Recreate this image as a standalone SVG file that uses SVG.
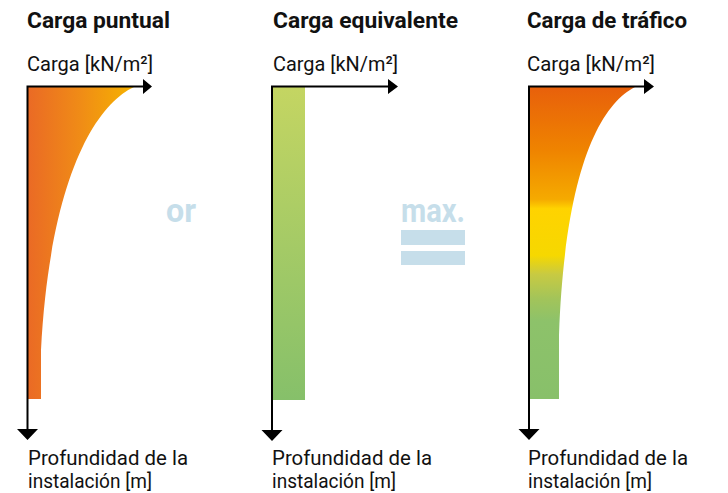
<svg xmlns="http://www.w3.org/2000/svg" width="728" height="493" viewBox="0 0 728 493">
<style>
.t{font-family:Roboto,"Liberation Sans",sans-serif;font-weight:bold;font-size:22.5px;fill:#111}
.l{font-family:Roboto,"Liberation Sans",sans-serif;font-size:21px;fill:#111}
.b{font-family:Roboto,"Liberation Sans",sans-serif;font-weight:bold;font-size:34px;fill:#C6DEEA}
.ax{stroke:#000;stroke-width:2;fill:none}
.ah{fill:#000}
</style>
<defs>
<linearGradient id="g1" gradientUnits="userSpaceOnUse" x1="28" y1="0" x2="134" y2="0">
<stop offset="0" stop-color="#EA6A25"/>
<stop offset="0.5" stop-color="#F08C16"/>
<stop offset="1" stop-color="#F6B300"/>
</linearGradient>
<linearGradient id="g2" gradientUnits="userSpaceOnUse" x1="0" y1="87" x2="0" y2="400">
<stop offset="0" stop-color="#C4D562"/>
<stop offset="1" stop-color="#86C06A"/>
</linearGradient>
<linearGradient id="g3" gradientUnits="userSpaceOnUse" x1="0" y1="87" x2="0" y2="399">
<stop offset="0" stop-color="#E8600B"/>
<stop offset="0.2" stop-color="#EF8300"/>
<stop offset="0.36" stop-color="#F5AA00"/>
<stop offset="0.39" stop-color="#FFD300"/>
<stop offset="0.54" stop-color="#F6D800"/>
<stop offset="0.6" stop-color="#C8CA42"/>
<stop offset="0.68" stop-color="#A2C45A"/>
<stop offset="0.75" stop-color="#8DC26A"/>
<stop offset="1" stop-color="#88C06A"/>
</linearGradient>
</defs>

<g id="panel-punctual">
<path d="M28,87 L134,87 C95,105 50,180 41,350 L41,399 L28,399 Z" fill="url(#g1)"/>
<text class="t" x="27" y="28" textLength="143" lengthAdjust="spacingAndGlyphs">Carga puntual</text>
<text class="l" x="27" y="71" textLength="126" lengthAdjust="spacingAndGlyphs">Carga [kN/m²]</text>
<text class="l" x="28" y="465" textLength="160" lengthAdjust="spacingAndGlyphs">Profundidad de la</text>
<text class="l" x="28" y="488" textLength="124" lengthAdjust="spacingAndGlyphs">instalación [m]</text>
</g>

<g id="panel-equivalent">
<rect x="272" y="87" width="33" height="313" fill="url(#g2)"/>
<text class="t" x="273" y="28" textLength="185" lengthAdjust="spacingAndGlyphs">Carga equivalente</text>
<text class="l" x="273" y="71" textLength="125" lengthAdjust="spacingAndGlyphs">Carga [kN/m²]</text>
<text class="l" x="272" y="465" textLength="160" lengthAdjust="spacingAndGlyphs">Profundidad de la</text>
<text class="l" x="272" y="488" textLength="124" lengthAdjust="spacingAndGlyphs">instalación [m]</text>
</g>

<g id="panel-traffic">
<path d="M529,87 L635,87 C600,105 565,170 559,335 L559,399 L529,399 Z" fill="url(#g3)"/>
<text class="t" x="527" y="28" textLength="160" lengthAdjust="spacingAndGlyphs">Carga de tráfico</text>
<text class="l" x="527" y="71" textLength="128" lengthAdjust="spacingAndGlyphs">Carga [kN/m²]</text>
<text class="l" x="528" y="465" textLength="160" lengthAdjust="spacingAndGlyphs">Profundidad de la</text>
<text class="l" x="528" y="488" textLength="124" lengthAdjust="spacingAndGlyphs">instalación [m]</text>
</g>

<g id="op-or">
<text class="b" x="166" y="222" textLength="30" lengthAdjust="spacingAndGlyphs">or</text>
</g>

<g id="op-max">
<text class="b" x="401" y="222" textLength="64" lengthAdjust="spacingAndGlyphs">max.</text>
<rect x="401" y="230" width="64" height="15" fill="#C6DEEA"/>
<rect x="401" y="251" width="64" height="14" fill="#C6DEEA"/>
</g>

<g id="connectors">
<path class="ax" d="M27.5,86 V431 M26.5,86.5 H144"/>
<path class="ah" d="M143,79 L152,86.5 L143,94 Z M17,429 L38,429 L27.5,440 Z"/>
<path class="ax" d="M272,86 V431 M271,86.5 H389"/>
<path class="ah" d="M388,79 L398,86.5 L388,94 Z M261.5,430 L282.5,430 L272,441 Z"/>
<path class="ax" d="M529,86 V431 M528,86.5 H645"/>
<path class="ah" d="M644,79 L654,86.5 L644,94 Z M518.5,429 L539.5,429 L529,440 Z"/>
</g>
</svg>
